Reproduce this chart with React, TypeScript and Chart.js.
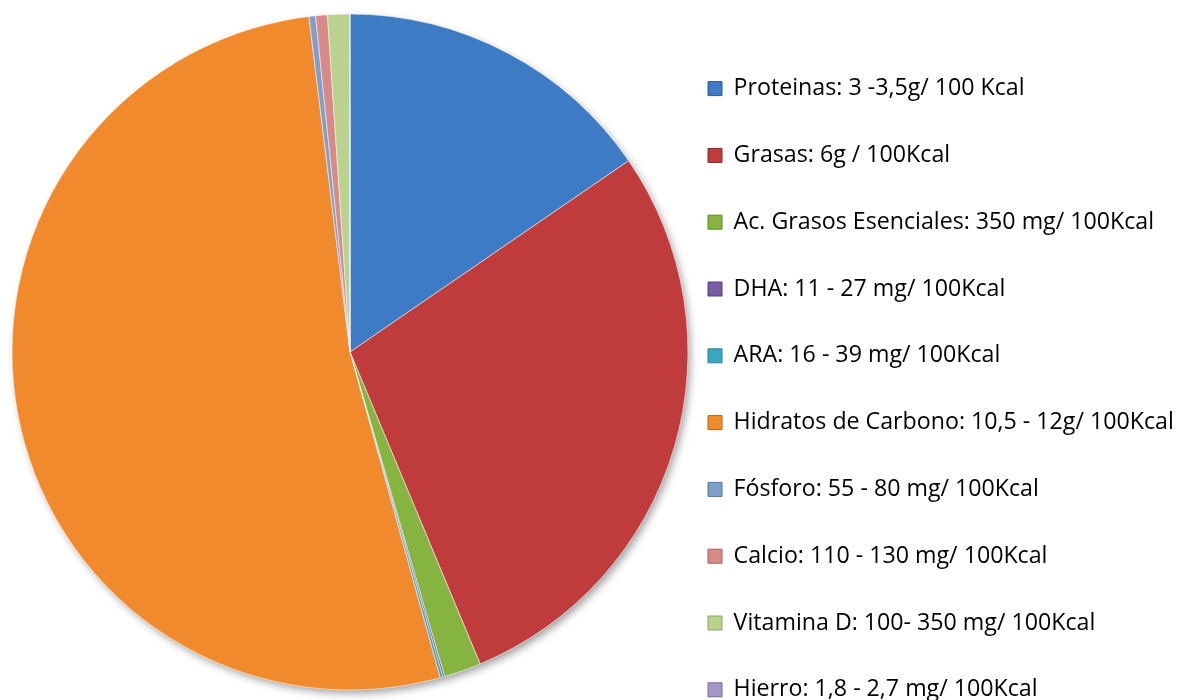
import React, { useEffect, useRef } from 'react';
import { Chart, registerables } from 'chart.js';

Chart.register(...registerables);

const labels = [
  'Proteinas: 3 -3,5g/ 100 Kcal',
  'Grasas: 6g / 100Kcal',
  'Ac. Grasos Esenciales: 350 mg/ 100Kcal',
  'DHA: 11 - 27 mg/ 100Kcal',
  'ARA: 16 - 39 mg/ 100Kcal',
  'Hidratos de Carbono: 10,5 - 12g/ 100Kcal',
  'Fósforo: 55 - 80 mg/ 100Kcal',
  'Calcio: 110 - 130 mg/ 100Kcal',
  'Vitamina D: 100- 350 mg/ 100Kcal',
  'Hierro: 1,8 - 2,7 mg/ 100Kcal',
];

const values = [3.3, 6.05, 0.38, 0.019, 0.0275, 11.2, 0.0675, 0.12, 0.225, 0.00225];

const colors = [
  '#3D7BC5',
  '#C03B3B',
  '#86B440',
  '#7A5BA5',
  '#3AA7C3',
  '#F18A2C',
  '#7F9FCB',
  '#D78A88',
  '#B9D38F',
  '#A596C4',
];

const edgeColors = [
  '#2A5A96',
  '#8E2626',
  '#5F8A2A',
  '#573E7C',
  '#26809A',
  '#B8641A',
  '#56769F',
  '#A85F5D',
  '#8BA562',
  '#776A98',
];

const FONT_FAMILY = '"Open Sans"';
const FONT_SIZE = 23.2;
const LEGEND_PAD = 8;
const BOX = 14;
const LEGEND_TOTAL = 478;

const shadowPlugin = {
  id: 'pieShadow',
  beforeDatasetsDraw(chart: any) {
    const meta = chart.getDatasetMeta(0);
    const arc = meta.data[0];
    if (!arc) return;
    const { x, y, outerRadius } = arc.getProps(['x', 'y', 'outerRadius'], true);
    const ctx = chart.ctx;
    ctx.save();
    ctx.shadowColor = 'rgba(0,0,0,0.4)';
    ctx.shadowBlur = 9;
    ctx.shadowOffsetX = 3;
    ctx.shadowOffsetY = 4;
    ctx.beginPath();
    ctx.arc(x, y, outerRadius - 1, 0, Math.PI * 2);
    ctx.fillStyle = '#999';
    ctx.fill();
    ctx.restore();
  },
};

function legendRightPadding(): number {
  const c = document.createElement('canvas');
  const ctx = c.getContext('2d');
  if (!ctx) return 0;
  ctx.font = `${FONT_SIZE}px ${FONT_FAMILY}`;
  let maxW = 0;
  labels.forEach((l) => {
    maxW = Math.max(maxW, ctx.measureText(l).width);
  });
  const legendW = LEGEND_PAD + BOX + FONT_SIZE / 2 + maxW + 10;
  return Math.max(0, LEGEND_TOTAL - legendW);
}

export default function App() {
  const ref = useRef<HTMLCanvasElement>(null);
  useEffect(() => {
    if (!ref.current) return;
    const ov = (Chart as any).overrides;
    const baseGen =
      (ov.pie && ov.pie.plugins && ov.pie.plugins.legend && ov.pie.plugins.legend.labels.generateLabels) ||
      ov.doughnut.plugins.legend.labels.generateLabels;
    const padRight = legendRightPadding();
    const chart = new Chart(ref.current, {
      type: 'pie',
      data: {
        labels,
        datasets: [
          {
            data: values,
            backgroundColor: colors,
            borderColor: 'rgba(255,255,255,0.55)',
            borderWidth: 1,
          },
        ],
      },
      options: {
        animation: false,
        responsive: true,
        maintainAspectRatio: false,
        radius: 338,
        layout: { padding: { left: 0, top: 0, bottom: 0, right: padRight } },
        plugins: {
          tooltip: { enabled: false },
          legend: {
            position: 'right',
            align: 'end',
            maxWidth: LEGEND_TOTAL,
            labels: {
              boxWidth: BOX,
              boxHeight: BOX,
              padding: LEGEND_PAD,
              color: '#000',
              font: { family: FONT_FAMILY, size: FONT_SIZE, lineHeight: '58.8px' },
              generateLabels: (c: any) => {
                const items = baseGen(c);
                return items.map((it: any, i: number) => ({
                  ...it,
                  text: [it.text],
                  strokeStyle: edgeColors[i],
                  lineWidth: 1,
                }));
              },
            },
          },
        },
      } as any,
      plugins: [shadowPlugin],
    });
    return () => chart.destroy();
  }, []);
  return (
    <div
      style={{
        position: 'fixed',
        left: 0,
        top: 0,
        width: 1178,
        height: 700,
        overflow: 'hidden',
        background: '#fff',
      }}
    >
      <div style={{ position: 'absolute', left: 0, top: -41, width: 1178, height: 786 }}>
        <canvas ref={ref} />
      </div>
    </div>
  );
}
